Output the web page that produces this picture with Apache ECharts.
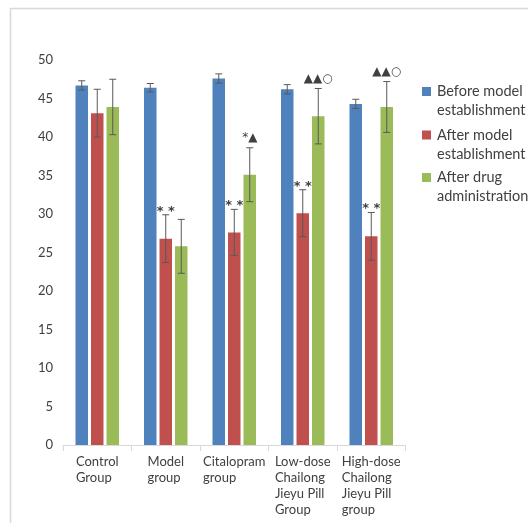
<!DOCTYPE html>
<html>
<head>
<meta charset="utf-8">
<script src="https://cdn.jsdelivr.net/npm/echarts@6/dist/echarts.min.js"></script>
<style>html,body{margin:0;padding:0;background:#fff;}#c{width:528px;height:523px;}</style>
</head>
<body>
<div id="c"></div>
<script>
const categories = ['Control\nGroup', 'Model\ngroup', 'Citalopram\ngroup', 'Low-dose\nChailong\nJieyu Pill\nGroup', 'High-dose\nChailong\nJieyu Pill\ngroup'];
const seriesNames = ['Before model\nestablishment', 'After model\nestablishment', 'After drug\nadministration'];
const beforeModel = [46.7, 46.4, 47.6, 46.2, 44.3];
const beforeModelErr = [0.6, 0.55, 0.6, 0.6, 0.6];
const afterModel = [43.1, 26.8, 27.6, 30.1, 27.1];
const afterModelErr = [3.1, 3.1, 3.0, 3.05, 3.1];
const afterDrug = [43.9, 25.8, 35.1, 42.7, 43.9];
const afterDrugErr = [3.6, 3.5, 3.5, 3.6, 3.3];
const annotBefore = ['', '', '', '', ''];
const annotAfterModel = ['', '**', '**', '**', '**'];
const annotAfterDrug = ['', '', '*\u25B2', '\u25B2\u25B2\u25CB', '\u25B2\u25B2\u25CB'];
const yTicks = [0, 5, 10, 15, 20, 25, 30, 35, 40, 45, 50];

const colors = ['#4f81bd', '#c0504d', '#9bbb59'];
const values = [beforeModel, afterModel, afterDrug];
const errs = [beforeModelErr, afterModelErr, afterDrugErr];
const annots = [annotBefore, annotAfterModel, annotAfterDrug];
const BAR_W = 12.5, GAP = 3;
const FONT = 'Lato, "Open Sans", sans-serif';

const chart = echarts.init(document.getElementById('c'), null, {renderer: 'canvas'});

const barSeries = values.map((vals, k) => ({
  type: 'bar', name: seriesNames[k], data: vals,
  barWidth: BAR_W, barGap: (GAP / BAR_W * 100) + '%',
  itemStyle: {color: colors[k]}, z: 2
}));

const errSeries = values.map((vals, k) => ({
  type: 'custom',
  name: 'err' + k,
  data: vals.map((v, i) => [i, v, errs[k][i], k]),
  z: 5,
  renderItem: function (params, api) {
    const i = api.value(0), v = api.value(1), e = api.value(2);
    const off = (k - 1) * (BAR_W + GAP);
    const top = api.coord([i, v + e]);
    const bot = api.coord([i, v - e]);
    const x = top[0] + off;
    const cap = 3.5;
    const st = {stroke: '#595959', lineWidth: 1};
    const children = [
      {type: 'line', shape: {x1: x, y1: top[1], x2: x, y2: bot[1]}, style: st},
      {type: 'line', shape: {x1: x - cap, y1: top[1], x2: x + cap, y2: top[1]}, style: st},
      {type: 'line', shape: {x1: x - cap, y1: bot[1], x2: x + cap, y2: bot[1]}, style: st}
    ];
    const a = annots[k][i];
    if (a) {
      const isStar = a === '**';
      children.push({type: 'text', style: {
        text: isStar ? '* *' : a, x: x, y: top[1] - (isStar ? -3 : 4),
        align: 'center', verticalAlign: 'bottom',
        font: (isStar ? 'bold 13px ' : '12px ') + '"DejaVu Sans", sans-serif', fill: '#404040'
      }});
    }
    return {type: 'group', children: children};
  }
}));

const legendGraphics = [];
const legendTops = [82, 125.5, 168];
seriesNames.forEach((n, k) => {
  legendGraphics.push({type: 'rect', left: 422, top: legendTops[k] + 5, shape: {width: 9, height: 9}, style: {fill: colors[k]}});
  legendGraphics.push({type: 'text', left: 437, top: legendTops[k], style: {text: n, font: '14.5px ' + FONT, lineHeight: 19, fill: '#404040'}});
});

chart.setOption({
  animation: false,
  backgroundColor: '#fff',
  grid: {left: 63, right: 122.5, top: 60, bottom: 78, containLabel: false},
  xAxis: {
    type: 'category', data: categories,
    axisLine: {lineStyle: {color: '#d9d9d9'}},
    axisTick: {show: true, length: 6, lineStyle: {color: '#d9d9d9'}},
    axisLabel: {
      margin: 9, interval: 0,
      formatter: function (val) { return val.split('\n').map(s => '{a|' + s + '}').join('\n'); },
      rich: {a: {align: 'left', fontFamily: FONT, fontSize: 13, lineHeight: 16, color: '#404040'}}
    }
  },
  yAxis: {
    type: 'value', min: yTicks[0], max: yTicks[yTicks.length - 1], interval: 5,
    axisLine: {show: false}, axisTick: {show: false},
    splitLine: {show: false},
    axisLabel: {margin: 10, fontFamily: FONT, fontSize: 13, color: '#404040'}
  },
  series: barSeries.concat(errSeries),
  graphic: [{type: 'rect', left: 8, top: 6, z: -1, shape: {width: 600, height: 600}, style: {fill: 'none', stroke: '#d9d9d9', lineWidth: 1.5}}].concat(legendGraphics)
});
</script>
</body>
</html>
